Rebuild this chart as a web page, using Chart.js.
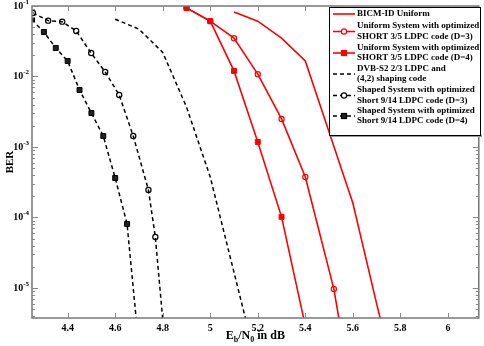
<!DOCTYPE html>
<html>
<head>
<meta charset="utf-8">
<script src="https://cdn.jsdelivr.net/npm/chart.js@4"></script>
<style>
  body { margin: 0; background: #fff; }
  canvas { display: block; }
</style>
</head>
<body>
<canvas id="berChart" width="484" height="346"></canvas>
<script>
// values
const bicmX = [5.1, 5.2, 5.3, 5.4, 5.6, 5.7, 5.72];
const bicmY = [0.082, 0.061, 0.035, 0.0166, 1.6e-4, 6e-6, 3.2e-6];

const uni3X = [4.9, 5.0, 5.1, 5.2, 5.3, 5.4, 5.52, 5.55];
const uni3Y = [0.094, 0.061, 0.035, 0.0108, 0.0025, 3.75e-4, 9.7e-6, 2.5e-6];

const uni4X = [4.9, 5.0, 5.1, 5.2, 5.3, 5.4];
const uni4Y = [0.094, 0.061, 0.012, 0.00118, 1.02e-4, 2.9e-6];

const dvbX = [4.6, 4.7, 4.8, 4.9, 5.0, 5.15];
const dvbY = [0.065, 0.047, 0.022, 0.0037, 3.75e-4, 3.5e-6];

const sh3X = [4.254, 4.318, 4.377, 4.436, 4.499, 4.558, 4.617, 4.676, 4.74, 4.769, 4.8];
const sh3Y = [0.0796, 0.062, 0.060, 0.0442, 0.0215, 0.0116, 0.00547, 0.00143, 2.45e-4, 5.28e-5, 3.6e-6];

const sh4X = [4.25, 4.30, 4.35, 4.40, 4.45, 4.50, 4.55, 4.60, 4.65, 4.69];
const sh4Y = [0.0633, 0.0428, 0.0254, 0.0166, 0.00644, 0.00303, 0.00143, 3.63e-4, 8.1e-5, 3.2e-6];

const legendLabels = [
  ["BICM-ID Uniform"],
  ["Uniform System with optimized", "SHORT 3/5 LDPC code (D=3)"],
  ["Uniform System with optimized", "SHORT 3/5 LDPC code (D=4)"],
  ["DVB-S2 2/3 LDPC and", "(4,2) shaping code"],
  ["Shaped System with optimized", "Short 9/14 LDPC code (D=3)"],
  ["Shaped System with optimized", "Short 9/14 LDPC code (D=4)"]
];

const xTicks = [4.4, 4.6, 4.8, 5.0, 5.2, 5.4, 5.6, 5.8, 6.0];
const yDecades = [-5, -4, -3, -2, -1];

const FONT = "'Liberation Serif', 'Times New Roman', serif";

function pts(xs, ys) {
  return xs.map((x, i) => ({ x: x, y: ys[i] }));
}

// hide the marker of the last point, which sits below the axis
function markerSize(r) {
  return ctx => ctx.dataIndex < ctx.dataset.data.length - 1 ? r : 0;
}

const datasets = [
  { data: pts(bicmX, bicmY), borderColor: "#ff0000", borderWidth: 1.6, pointRadius: 0 },
  { data: pts(uni3X, uni3Y), borderColor: "#ff0000", borderWidth: 1.6,
    pointStyle: "circle", pointRadius: markerSize(2.6), pointBorderColor: "#ff0000",
    pointBackgroundColor: "rgba(255,255,255,0)", pointBorderWidth: 1.2 },
  { data: pts(uni4X, uni4Y), borderColor: "#ff0000", borderWidth: 1.6,
    pointStyle: "rect", pointRadius: markerSize(3.5), pointBorderColor: "#ff0000",
    pointBackgroundColor: "#ff0000", pointBorderWidth: 1 },
  { data: pts(dvbX, dvbY), borderColor: "#000", borderWidth: 1.5, borderDash: [4, 3], pointRadius: 0 },
  { data: pts(sh3X, sh3Y), borderColor: "#000", borderWidth: 1.5, borderDash: [4, 3],
    pointStyle: "circle", pointRadius: markerSize(2.6), pointBorderColor: "#000",
    pointBackgroundColor: "rgba(255,255,255,0)", pointBorderWidth: 1.2 },
  { data: pts(sh4X, sh4Y), borderColor: "#000", borderWidth: 1.5, borderDash: [4, 3],
    pointStyle: "rect", pointRadius: markerSize(3.5), pointBorderColor: "#000",
    pointBackgroundColor: "#222", pointBorderWidth: 1 }
];

const framePlugin = {
  id: "frame",
  afterDraw(chart) {
    const c = chart.ctx;
    const a = chart.chartArea;
    const xs = chart.scales.x;
    const ys = chart.scales.y;
    c.save();

    // frame
    c.strokeStyle = "#777";
    c.lineWidth = 1.5;
    c.strokeRect(a.left, a.top, a.right - a.left, a.bottom - a.top);

    // x ticks, inside on top and bottom
    c.strokeStyle = "#888";
    c.lineWidth = 1;
    xTicks.forEach(v => {
      const px = Math.round(xs.getPixelForValue(v)) + 0.5;
      c.beginPath();
      c.moveTo(px, a.bottom); c.lineTo(px, a.bottom - 5);
      c.moveTo(px, a.top); c.lineTo(px, a.top + 5);
      c.stroke();
    });

    // y ticks, major and minor, inside on both sides
    for (let e = -6; e <= -1; e++) {
      for (let m = 1; m <= 9; m++) {
        const v = m * Math.pow(10, e);
        if (v < ys.min || v > ys.max) continue;
        const py = Math.round(ys.getPixelForValue(v)) + 0.5;
        const len = m === 1 ? 6 : 3;
        c.beginPath();
        c.moveTo(a.left, py); c.lineTo(a.left + len, py);
        c.moveTo(a.right, py); c.lineTo(a.right - len, py);
        c.stroke();
      }
    }

    // y labels 10^-n
    c.fillStyle = "#000";
    c.textBaseline = "middle";
    yDecades.forEach(e => {
      const py = ys.getPixelForValue(Math.pow(10, e));
      c.font = "bold 7px " + FONT;
      c.textAlign = "right";
      const exp = String(e);
      const ew = c.measureText(exp).width;
      c.fillText(exp, a.left - 3, py - 4);
      c.font = "bold 10px " + FONT;
      c.fillText("10", a.left - 3 - ew, py);
    });

    // y title
    c.save();
    c.translate(10, (a.top + a.bottom) / 2);
    c.rotate(-Math.PI / 2);
    c.font = "bold 11px " + FONT;
    c.textAlign = "center";
    c.fillText("BER", 0, 0);
    c.restore();

    // x title E_b/N_0 in dB
    const parts = [
      ["E", 12, 0], ["b", 8, 3], ["/N", 12, 0], ["0", 8, 3], [" in dB", 12, 0]
    ];
    let total = 0;
    parts.forEach(p => { c.font = "bold " + p[1] + "px " + FONT; total += c.measureText(p[0]).width; });
    let tx = (a.left + a.right) / 2 - total / 2;
    c.textAlign = "left";
    c.textBaseline = "alphabetic";
    parts.forEach(p => {
      c.font = "bold " + p[1] + "px " + FONT;
      c.fillText(p[0], tx, 339 + p[2]);
      tx += c.measureText(p[0]).width;
    });

    // legend
    const bx = 329, by = 7, bw = 151, bh = 128;
    c.fillStyle = "#999";
    c.fillRect(bx + 2, by + bh, bw, 2);
    c.fillStyle = "#fff";
    c.fillRect(bx, by, bw, bh);
    c.strokeStyle = "#000";
    c.lineWidth = 1;
    c.strokeRect(bx + 0.5, by + 0.5, bw, bh);

    const rows = [[14], [26, 37], [48, 58], [69, 79], [90, 101], [111, 121]];
    chart.data.datasets.forEach((ds, i) => {
      const lines = legendLabels[i];
      const ly = rows[i].reduce((s, v) => s + v, 0) / rows[i].length;
      c.save();
      c.strokeStyle = ds.borderColor;
      c.lineWidth = ds.borderWidth;
      c.setLineDash(ds.borderDash || []);
      c.beginPath();
      c.moveTo(333, ly); c.lineTo(355, ly);
      c.stroke();
      c.setLineDash([]);
      if (ds.pointStyle) {
        c.lineWidth = 1.2;
        c.strokeStyle = ds.pointBorderColor;
        c.fillStyle = ds.pointStyle === "rect" ? ds.pointBackgroundColor : "#fff";
        if (ds.pointStyle === "rect") {
          c.fillRect(341.5, ly - 2.5, 5, 5);
          c.strokeRect(341.5, ly - 2.5, 5, 5);
        } else {
          c.beginPath();
          c.arc(344, ly, 2.6, 0, Math.PI * 2);
          c.fill(); c.stroke();
        }
      }
      c.restore();
      c.fillStyle = "#000";
      c.font = "bold 9px " + FONT;
      c.textAlign = "left";
      c.textBaseline = "middle";
      lines.forEach((t, k) => c.fillText(t, 357, rows[i][k]));
    });

    c.restore();
  }
};

new Chart(document.getElementById("berChart"), {
  type: "line",
  data: { datasets: datasets },
  options: {
    responsive: false,
    animation: false,
    parsing: false,
    layout: { padding: { top: 6, right: 5, left: 0, bottom: 0 } },
    plugins: { legend: { display: false }, tooltip: { enabled: false } },
    scales: {
      x: {
        type: "linear",
        min: 4.25,
        max: 6.13,
        grid: { display: false, drawTicks: false },
        border: { display: false },
        afterBuildTicks: s => { s.ticks = xTicks.map(v => ({ value: v })); },
        afterFit: s => { s.height = 28; },
        ticks: {
          padding: 4,
          color: "#000",
          font: { family: FONT, size: 10, weight: "bold" },
          callback: v => String(Math.round(v * 10) / 10)
        }
      },
      y: {
        type: "logarithmic",
        min: 3.75e-6,
        max: 0.1,
        grid: { display: false, drawTicks: false },
        border: { display: false },
        ticks: { display: false },
        afterFit: s => { s.width = 32; }
      }
    }
  },
  plugins: [framePlugin]
});
</script>
</body>
</html>
